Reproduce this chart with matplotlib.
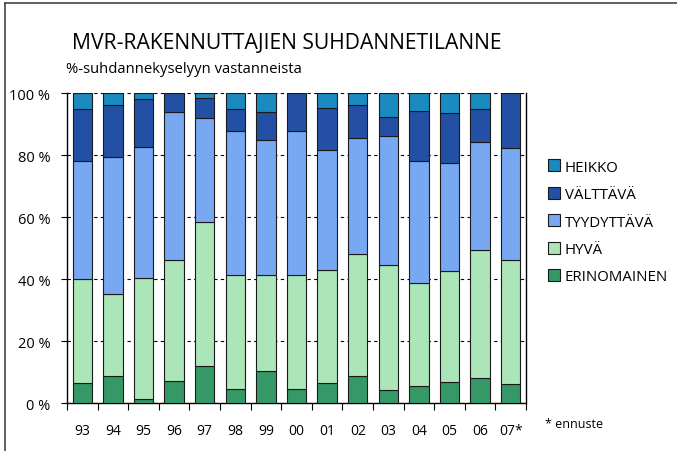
import matplotlib

matplotlib.use("Agg")
import matplotlib.pyplot as plt
import numpy as np
from matplotlib.lines import Line2D
from matplotlib.patches import Patch

plt.rcParams["font.family"] = ["Open Sans", "DejaVu Sans"]

years = ["93", "94", "95", "96", "97", "98", "99", "00", "01", "02", "03", "04", "05", "06", "07*"]
erinomainen = [6.5, 8.7, 1.4, 7.0, 12.1, 4.6, 10.2, 4.7, 6.5, 8.7, 4.3, 5.4, 6.9, 8.2, 6.1]
hyva = [33.5, 26.5, 39.1, 39.1, 46.2, 36.8, 31.2, 36.6, 36.5, 39.3, 40.2, 33.2, 35.7, 41.2, 40.0]
tyydyttava = [38.2, 44.3, 42.2, 47.8, 33.7, 46.4, 43.4, 46.3, 38.6, 37.5, 41.7, 39.4, 34.8, 34.7, 36.1]
valttava = [16.6, 16.5, 15.5, 6.1, 6.4, 7.1, 9.1, 12.4, 13.6, 10.7, 6.1, 16.1, 16.2, 10.8, 17.8]
heikko = [5.2, 4.0, 1.8, 0.0, 1.6, 5.1, 6.1, 0.0, 4.8, 3.8, 7.7, 5.9, 6.4, 5.1, 0.0]

series = [
    ("ERINOMAINEN", erinomainen, "#349966"),
    ("HYVÄ", hyva, "#abe5b8"),
    ("TYYDYTTÄVÄ", tyydyttava, "#78a8f2"),
    ("VÄLTTÄVÄ", valttava, "#2350a5"),
    ("HEIKKO", heikko, "#1a8ac0"),
]

fig = plt.figure(figsize=(6.77, 4.52), dpi=100)
ax = fig.add_axes([0.099, 0.106, 0.678, 0.686])

x = np.arange(len(years))
bottom = np.zeros(len(years))
for name, vals, color in series:
    vals = np.array(vals)
    ax.bar(x, vals, 0.63, bottom=bottom, color=color, edgecolor="#1a1a1a",
           linewidth=0.8, zorder=3)
    bottom += vals

ax.set_xlim(-0.5, len(years) - 0.5)
ax.set_ylim(0, 100)
ax.set_yticks(range(0, 101, 20))
ax.set_yticklabels([f"{v} %" for v in range(0, 101, 20)], fontsize=10.5)
ax.yaxis.grid(True, color="black", linestyle=(0, (3, 3)), linewidth=0.8, zorder=0)

ax.set_xticks(x)
ax.set_xticklabels(years, fontsize=10)
ax.set_xticks(np.arange(-0.5, len(years)), minor=True)
ax.tick_params(axis="x", which="major", length=0, pad=14)
ax.tick_params(axis="x", which="minor", length=5, direction="out", width=0.8)
ax.tick_params(axis="y", length=4, direction="out", width=0.8, pad=8)

ax.spines["top"].set_visible(False)
for s in ("left", "right", "bottom"):
    ax.spines[s].set_linewidth(1.0)

handles = [Patch(facecolor=c, edgecolor="#1a1a1a", linewidth=0.8, label=n)
           for n, _, c in reversed(series)]
fig.legend(handles=handles, loc="upper left", bbox_to_anchor=(0.789, 0.675),
           frameon=False, fontsize=10.8, handlelength=0.85, handleheight=0.85,
           handletextpad=0.3, labelspacing=0.82)

fig.text(0.106, 0.903, "MVR-RAKENNUTTAJIEN SUHDANNETILANNE", fontsize=15.2,
         va="center", ha="left")
fig.text(0.097, 0.846, "%-suhdannekyselyyn vastanneista", fontsize=10.7,
         va="center", ha="left")
fig.text(0.805, 0.06, "* ennuste", fontsize=9, va="center", ha="left")

fig.add_artist(Line2D([5 / 677, 1], [448 / 452, 448 / 452], color="#444444",
                      linewidth=1.2, transform=fig.transFigure))
fig.add_artist(Line2D([5 / 677, 5 / 677], [0, 448 / 452], color="#444444",
                      linewidth=1.2, transform=fig.transFigure))

fig.savefig("out.png", dpi=100)
